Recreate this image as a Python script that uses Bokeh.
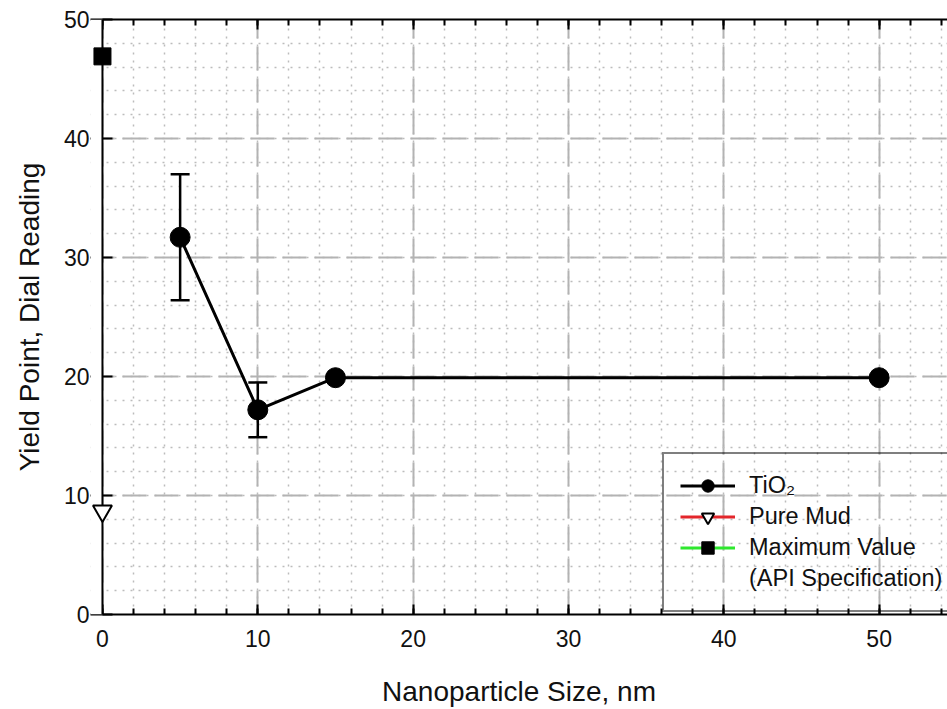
from bokeh.plotting import figure
from bokeh.models import (Range1d, LinearAxis, SingleIntervalTicker, Whisker, TeeHead,
                          ColumnDataSource, Legend, LegendItem, BoxAnnotation, Span,
                          CustomJSTickFormatter)
from bokeh.embed import file_html
from bokeh.resources import INLINE

# Yield point of mud with TiO2 nanoparticles of different sizes
size_nm = [5, 10, 15, 50]
yield_point = [31.7, 17.2, 19.9, 19.9]
yield_err = [5.3, 2.3, 0.0, 0.0]

pure_mud_x = [0]
pure_mud_y = [8.7]

api_max_x = [0]
api_max_y = [46.9]

x_ticks_major = 10
y_ticks_major = 10

FONT = "Liberation Sans"
TXT = "#111111"
X_START, X_END = -0.77, 54.4

p = figure(width=947, height=709, output_backend="svg", toolbar_location=None,
           x_range=Range1d(X_START, X_END), y_range=Range1d(0, 50),
           min_border_left=90, min_border_right=0, min_border_top=19, min_border_bottom=95)
p.outline_line_color = None
p.background_fill_color = "white"
p.border_fill_color = "white"

xticker = SingleIntervalTicker(interval=x_ticks_major, num_minor_ticks=5)
yticker = SingleIntervalTicker(interval=y_ticks_major, num_minor_ticks=5)

# grids: dashed major, dotted minor
for g, t in ((p.xgrid, xticker), (p.ygrid, yticker)):
    g.ticker = t
    g.grid_line_color = "#b3b3b3"
    g.grid_line_width = 2
    g.grid_line_dash = "24 8"
    g.minor_grid_line_color = "#bcbcbc"
    g.minor_grid_line_width = 1.5
    g.minor_grid_line_dash = "2 6"

# bottom axis
xa = p.xaxis[0]
xa.ticker = xticker
xa.bounds = (0, X_END)
xa.axis_label = "Nanoparticle Size, nm"
# left axis: labels and ticks only, its line is drawn at x = 0 below
ya = p.yaxis[0]
ya.ticker = yticker
ya.axis_label = "Yield Point, Dial Reading"

for ax in (xa, ya):
    ax.axis_line_color = "black"
    ax.axis_line_width = 2
    ax.major_tick_line_color = "black"
    ax.major_tick_line_width = 2
    ax.minor_tick_line_color = "black"
    ax.minor_tick_line_width = 2
    ax.major_tick_in = 10
    ax.major_tick_out = 0
    ax.minor_tick_in = 6
    ax.minor_tick_out = 0
    ax.major_label_text_font = FONT
    ax.major_label_text_font_size = "23px"
    ax.major_label_text_color = TXT
    ax.axis_label_text_font = FONT
    ax.axis_label_text_font_size = "28px"
    ax.axis_label_text_font_style = "normal"
    ax.axis_label_text_color = TXT

ya.axis_line_color = None
ya.minor_tick_line_color = None
ya.major_tick_in = 22
ya.major_label_standoff = 1
ya.axis_label_standoff = 16
xa.major_label_standoff = 15
xa.axis_label_standoff = 26

# top axis with inward ticks only
top = LinearAxis(ticker=xticker, bounds=(0, X_END),
                 formatter=CustomJSTickFormatter(code="return ''"),
                 axis_line_color="black", axis_line_width=2,
                 major_tick_line_color="black", major_tick_line_width=2,
                 minor_tick_line_color="black", minor_tick_line_width=2,
                 major_tick_in=10, major_tick_out=0, minor_tick_in=6, minor_tick_out=0,
                 major_label_text_font_size="1px", major_label_standoff=0)
p.add_layout(top, "above")

# blank strip left of x = 0, then the y axis line at x = 0
p.add_layout(BoxAnnotation(right=0, fill_color="white", fill_alpha=1.0,
                           line_color=None, level="annotation"))
p.add_layout(Span(location=0, dimension="height", line_color="black", line_width=2,
                  level="annotation"))

# TiO2 series with error bars
tio2 = ColumnDataSource(dict(x=size_nm, y=yield_point))
err_idx = [i for i, e in enumerate(yield_err) if e > 0]
err_src = ColumnDataSource(dict(
    x=[size_nm[i] for i in err_idx],
    upper=[yield_point[i] + yield_err[i] for i in err_idx],
    lower=[yield_point[i] - yield_err[i] for i in err_idx]))
p.add_layout(Whisker(source=err_src, base="x", upper="upper", lower="lower",
                     line_color="black", line_width=2.5, level="glyph",
                     upper_head=TeeHead(size=19, line_color="black", line_width=2.5),
                     lower_head=TeeHead(size=19, line_color="black", line_width=2.5)))

tio2_line = p.line("x", "y", source=tio2, line_color="black", line_width=3)
tio2_pts = p.scatter("x", "y", source=tio2, marker="circle", size=20,
                     fill_color="black", line_color="black")

mud_line = p.line(pure_mud_x, pure_mud_y, line_color="#e3262b", line_width=3)
mud_pts = p.scatter(pure_mud_x, pure_mud_y, marker="inverted_triangle", size=19,
                    fill_color="white", line_color="black", line_width=2, level="overlay")

api_line = p.line(api_max_x, api_max_y, line_color="#2ee82e", line_width=3)
api_pts = p.scatter(api_max_x, api_max_y, marker="square", size=17,
                    fill_color="black", line_color="black", level="overlay")

legend = Legend(items=[
    LegendItem(label="TiO\u2082", renderers=[tio2_line, tio2_pts]),
    LegendItem(label="Pure Mud", renderers=[mud_line, mud_pts]),
    LegendItem(label="Maximum Value", renderers=[api_line, api_pts]),
    LegendItem(label="(API Specification)", renderers=[]),
], location=(572, 2), orientation="vertical",
    glyph_width=55, glyph_height=31, label_height=31, spacing=0, padding=16,
    label_standoff=14, label_width=250,
    label_text_font=FONT, label_text_font_size="23.5px", label_text_color=TXT,
    border_line_color="black", border_line_width=2,
    background_fill_alpha=0.0)
p.add_layout(legend, "center")

open("out.html", "w").write(file_html(p, INLINE))
